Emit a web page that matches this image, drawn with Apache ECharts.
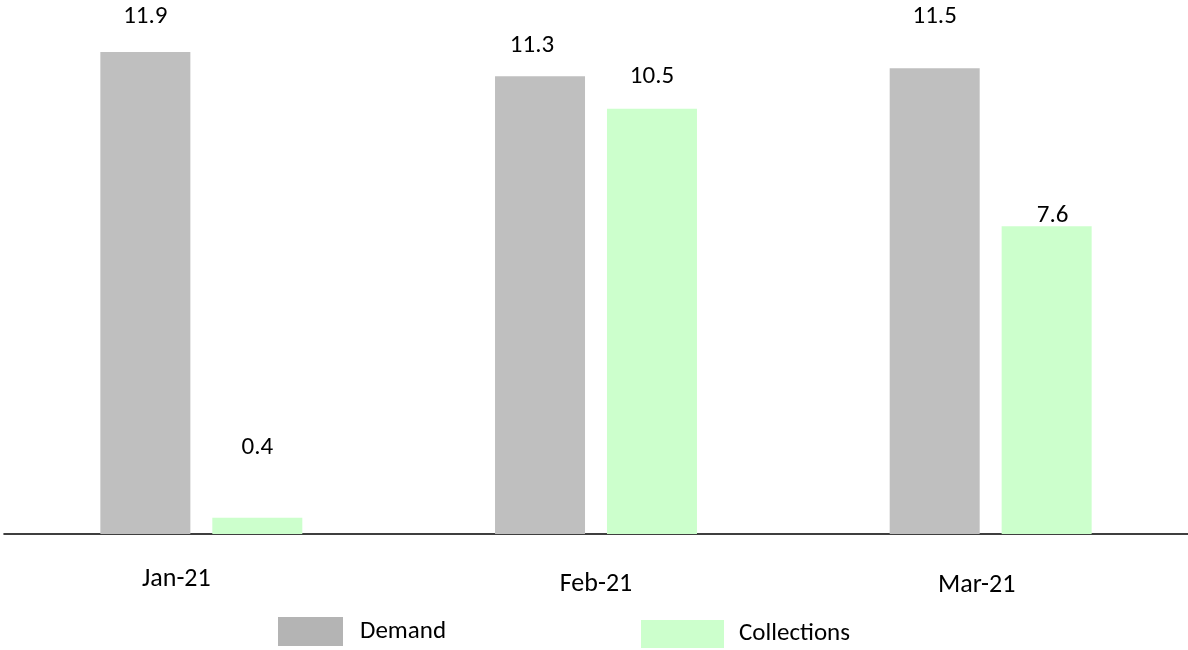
<!DOCTYPE html>
<html>
<head>
<meta charset="utf-8">
<script src="https://cdn.jsdelivr.net/npm/echarts@6/dist/echarts.min.js"></script>
<style>
  html, body { margin: 0; padding: 0; background: #ffffff; }
  #chart { width: 1188px; height: 650px; }
</style>
</head>
<body>
<div id="chart"></div>
<script>
// Monthly demand vs collections
const months = ['Jan-21', 'Feb-21', 'Mar-21'];
const demand = [11.9, 11.3, 11.5];
const collections = [0.4, 10.5, 7.6];

// Per-month placement of the value labels above each bar
const demandLabelOffset = [[0, -23], [-8, -18.5], [0, -39.5]];
const collectionLabelOffset = [[0, -58], [0, -20], [6, 2]];
// Per-month rich style of the category labels
const monthLabelStyle = ['jan', 'feb', 'mar'];

const FONT = 'Carlito, Lato, sans-serif';

function withLabels(values, offsets) {
  return values.map((v, i) => ({
    value: v,
    label: { offset: offsets[i] }
  }));
}

const chart = echarts.init(document.getElementById('chart'));
chart.setOption({
  animation: false,
  grid: { left: 4, right: 0, top: 7.5, bottom: 116, containLabel: false },
  legend: [
    {
      data: [{ name: 'Demand', itemStyle: { color: '#b4b4b4' } }],
      left: 278, top: 617, padding: 0,
      itemWidth: 65, itemHeight: 29,
      icon: 'rect',
      textStyle: { fontFamily: FONT, fontSize: 25, color: '#000', padding: [9, 0, 0, 12] }
    },
    {
      data: ['Collections'],
      left: 641, top: 620, padding: 0,
      itemWidth: 83, itemHeight: 28,
      icon: 'rect',
      textStyle: { fontFamily: FONT, fontSize: 25, color: '#000', padding: [10, 0, 0, 10] }
    }
  ],
  xAxis: {
    type: 'category',
    data: months,
    axisLine: { show: true, lineStyle: { color: '#000', width: 1.6 } },
    axisTick: { show: false },
    axisLabel: {
      margin: 32,
      fontFamily: FONT,
      fontSize: 26,
      color: '#000',
      formatter: (v, i) => '{' + monthLabelStyle[i] + '|' + v + '}',
      rich: {
        jan: { fontFamily: FONT, fontSize: 26, color: '#000', padding: [0, 50, 0, 0] },
        feb: { fontFamily: FONT, fontSize: 26, color: '#000', padding: [5, 0, 0, 0] },
        mar: { fontFamily: FONT, fontSize: 26, color: '#000', padding: [6, 28, 0, 0] }
      }
    },
    splitLine: { show: false }
  },
  yAxis: {
    type: 'value',
    min: 0,
    max: 13,
    show: false,
    splitLine: { show: false }
  },
  series: [
    {
      name: 'Demand',
      type: 'bar',
      barWidth: 90,
      barGap: '24.4%',
      itemStyle: { color: '#bfbfbf' },
      label: { show: true, position: 'top', distance: 0, fontFamily: FONT, fontSize: 25, color: '#000' },
      data: withLabels(demand, demandLabelOffset)
    },
    {
      name: 'Collections',
      type: 'bar',
      barWidth: 90,
      itemStyle: { color: '#ccffcc' },
      label: { show: true, position: 'top', distance: 0, fontFamily: FONT, fontSize: 25, color: '#000' },
      data: withLabels(collections, collectionLabelOffset)
    }
  ]
});
</script>
</body>
</html>
